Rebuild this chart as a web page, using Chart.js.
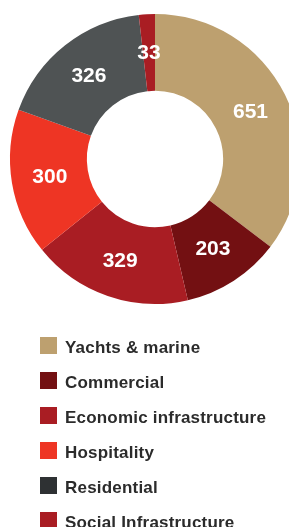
<!DOCTYPE html>
<html>
<head>
<meta charset="utf-8">
<script src="https://cdn.jsdelivr.net/npm/chart.js@4/dist/chart.umd.min.js"></script>
<style>
  html, body { margin: 0; padding: 0; background: #fff; overflow: hidden; width: 289px; height: 527px; }
  #wrap { position: absolute; left: 0; top: 0; width: 310px; height: 318px; }
  #legend { position: absolute; left: 0; top: 0; width: 289px; height: 527px; }
  .box { position: absolute; left: 40px; width: 17px; height: 17px; }
  .txt { position: absolute; left: 65px; font: bold 17px "Liberation Sans", Arial, sans-serif; line-height: 17px; letter-spacing: 0.2px; color: #2b2b2b; white-space: nowrap; }
</style>
</head>
<body>
<div id="wrap"><canvas id="grafik" width="310" height="318"></canvas></div>
<div id="legend"></div>
<script>
// chart data
var categories = ["Yachts & marine", "Commercial", "Economic infrastructure", "Hospitality", "Residential", "Social Infrastructure"];
var values = [651, 203, 329, 300, 326, 33];
var sliceColors = ["#BDA06F", "#731012", "#A91D23", "#EE3524", "#4F5354", "#A91D23"];
var legendColors = ["#BDA06F", "#731012", "#A91D23", "#EE3524", "#2E3133", "#A91D23"];

// draw the value inside each slice
var sliceLabels = {
    id: 'sliceLabels',
    afterDatasetsDraw: function(chart){
        var ctx = chart.ctx;
        var meta = chart.getDatasetMeta(0);
        ctx.save();
        ctx.font = 'bold 21px "Liberation Sans", Arial, sans-serif';
        ctx.fillStyle = '#fff';
        ctx.textAlign = 'center';
        ctx.textBaseline = 'middle';
        meta.data.forEach(function(arc, i){
            var p = arc.tooltipPosition();
            ctx.fillText(String(values[i]), p.x, p.y + 1);
        });
        ctx.restore();
    }
};

var ctx = document.getElementById("grafik");
var myChart = new Chart(ctx, {
    type: 'doughnut',
    data: {
        labels: categories,
        datasets: [{
            data: values,
            backgroundColor: sliceColors,
            borderWidth: 0
        }]
    },
    options: {
        responsive: false,
        animation: false,
        devicePixelRatio: 1,
        cutout: '47%',
        layout: { padding: 10 },
        plugins: {
            legend: { display: false },
            tooltip: { enabled: false }
        }
    },
    plugins: [sliceLabels]
});

// legend
var legend = document.getElementById("legend");
categories.forEach(function(name, i){
    var top = 337 + i * 35;
    var box = document.createElement("div");
    box.className = "box";
    box.style.top = top + "px";
    box.style.background = legendColors[i];
    legend.appendChild(box);
    var txt = document.createElement("div");
    txt.className = "txt";
    txt.style.top = (top + 2) + "px";
    txt.textContent = name;
    legend.appendChild(txt);
});
</script>
</body>
</html>
